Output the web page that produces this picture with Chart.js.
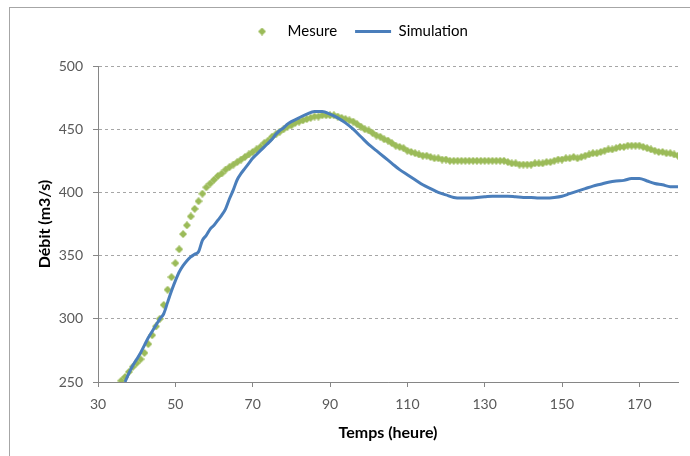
<!DOCTYPE html>
<html>
<head>
<meta charset="utf-8">
<script src="https://cdn.jsdelivr.net/npm/chart.js@4/dist/chart.umd.min.js"></script>
<style>
  html, body { margin: 0; padding: 0; background: #fff; }
  #wrap { position: relative; width: 690px; height: 456px; overflow: hidden; }
  #frame { position: absolute; left: 9px; top: 7px; width: 700px; height: 470px; border: 1px solid #a6a6a6; pointer-events: none; }
</style>
</head>
<body>
<div id="wrap">
  <canvas id="chart" width="690" height="456"></canvas>
  <div id="frame"></div>
</div>
<script>
// données
const seriesNames = ['Mesure', 'Simulation'];
const xTitle = 'Temps (heure)';
const yTitle = 'Débit (m3/s)';
const xTicks = [30, 50, 70, 90, 110, 130, 150, 170];
const yTicks = [250, 300, 350, 400, 450, 500];

const mesureTemps = [
  36, 37, 38, 39, 40, 41, 42, 43, 44, 45, 46, 47, 48, 49, 50, 51, 52, 53, 54, 55,
  56, 57, 58, 59, 60, 61, 62, 63, 64, 65, 66, 67, 68, 69, 70, 71, 72, 73, 74, 75,
  76, 77, 78, 79, 80, 81, 82, 83, 84, 85, 86, 87, 88, 89, 90, 91, 92, 93, 94, 95,
  96, 97, 98, 99, 100, 101, 102, 103, 104, 105, 106, 107, 108, 109, 110, 111, 112, 113, 114, 115,
  116, 117, 118, 119, 120, 121, 122, 123, 124, 125, 126, 127, 128, 129, 130, 131, 132, 133, 134, 135,
  136, 137, 138, 139, 140, 141, 142, 143, 144, 145, 146, 147, 148, 149, 150, 151, 152, 153, 154, 155,
  156, 157, 158, 159, 160, 161, 162, 163, 164, 165, 166, 167, 168, 169, 170, 171, 172, 173, 174, 175,
  176, 177, 178, 179, 180
];
const mesureDebit = [
  251, 254, 258, 262, 265, 268, 273, 280, 287, 294, 300, 311, 323, 333, 344, 355, 367, 374, 381, 387,
  393, 399, 404, 407, 410, 413, 415, 418, 420, 422, 424, 426, 428, 430, 432, 434, 436, 439, 441, 444,
  446, 448, 450, 452, 453, 455, 456, 457, 458, 459, 460, 460, 461, 461, 461, 461, 460, 459, 458, 457,
  456, 454, 452, 450, 449, 447, 445, 444, 442, 441, 439, 437, 436, 435, 433, 432, 431, 430, 429, 429,
  428, 427, 427, 426, 426, 425, 425, 425, 425, 425, 425, 425, 425, 425, 425, 425, 425, 425, 425, 425,
  424, 423, 423, 422, 422, 422, 422, 423, 423, 423, 424, 424, 425, 426, 426, 427, 427, 428, 427, 428,
  429, 430, 431, 431, 432, 433, 434, 434, 435, 436, 436, 437, 437, 437, 437, 436, 435, 434, 433, 432,
  432, 431, 431, 430, 429
];

const simTemps = [
  37, 38, 39, 40, 41, 42, 43, 44, 45, 46, 47, 48, 49, 50, 51, 52, 53, 54, 55, 56,
  57, 58, 59, 60, 61, 62, 63, 64, 65, 66, 67, 68, 69, 70, 71, 72, 73, 74, 75, 76,
  77, 78, 79, 80, 82, 84, 86, 88, 90, 92, 94, 96, 98, 100, 102, 104, 106, 108, 110, 112,
  114, 116, 118, 120, 122, 124, 126, 128, 130, 132, 134, 136, 138, 140, 142, 144, 146, 148, 150, 152,
  154, 156, 158, 160, 162, 164, 166, 168, 170, 172, 174, 176, 178, 180
];
const simDebit = [
  250, 257, 263, 268, 273, 279, 285, 290, 295, 300, 304, 313, 322, 330, 337, 342, 346, 349, 351, 353,
  362, 366, 371, 374, 378, 382, 387, 395, 402, 410, 415, 419, 423, 427, 430, 433, 436, 439, 442, 446,
  449, 451, 454, 456, 459, 462, 464, 464, 462, 459, 455, 450, 444, 438, 433, 428, 423, 418, 414, 410,
  406, 403, 400, 398, 396, 395.5, 395.5, 396, 396.5, 397, 397, 397, 396.5, 396, 396, 395.5, 395.5, 396, 397, 399,
  401, 403, 405, 406.5, 408, 409, 409.5, 411, 411, 409, 407, 406, 404.5, 404.5
];

const xMin = 30, xMax = 180;
const yMin = 250, yMax = 500;

const vert = '#9BBB59';
const bleu = '#4A7EBB';

// losange pour les points de mesure
const losange = document.createElement('canvas');
losange.width = 8;
losange.height = 8;
const lc = losange.getContext('2d');
lc.fillStyle = vert;
lc.beginPath();
lc.moveTo(4, 0);
lc.lineTo(8, 4);
lc.lineTo(4, 8);
lc.lineTo(0, 4);
lc.closePath();
lc.fill();

Chart.defaults.font.family = 'Lato';
Chart.defaults.font.size = 14;
Chart.defaults.color = '#595959';

// légende : un peu plus d'espace en dessous et décalée vers la droite
const legendTweak = {
  id: 'legendTweak',
  beforeLayout(chart) {
    const lg = chart.legend;
    if (lg && !lg._wrapped) {
      const fit = lg.fit;
      lg.fit = function () { fit.call(this); this.height += 17; };
      lg._wrapped = true;
    }
  },
  afterLayout(chart) {
    chart.legend.left += 17;
    chart.legend.right += 17;
  }
};

new Chart(document.getElementById('chart'), {
  type: 'scatter',
  data: {
    datasets: [
      {
        label: seriesNames[0],
        data: mesureTemps.map((t, i) => ({ x: t, y: mesureDebit[i] })),
        pointStyle: losange,
        pointRadius: 4,
        backgroundColor: vert,
        borderColor: vert,
        borderWidth: 0,
        showLine: false,
        order: 1
      },
      {
        label: seriesNames[1],
        data: simTemps.map((t, i) => ({ x: t, y: simDebit[i] })),
        showLine: true,
        pointRadius: 0,
        pointStyle: 'line',
        borderColor: bleu,
        backgroundColor: bleu,
        borderWidth: 3,
        cubicInterpolationMode: 'monotone',
        order: 0
      }
    ]
  },
  options: {
    responsive: false,
    animation: false,
    layout: { padding: { left: 0, right: 12, top: 6, bottom: 0 } },
    plugins: {
      tooltip: { enabled: false },
      legend: {
        position: 'top',
        labels: {
          usePointStyle: true,
          pointStyleWidth: 36,
          padding: 18,
          color: '#000',
          font: { size: 15 },
          sort: (a, b) => a.datasetIndex - b.datasetIndex
        }
      }
    },
    scales: {
      x: {
        type: 'linear',
        min: xMin,
        max: xMax,
        afterFit: s => { s.height = 74; },
        afterBuildTicks: s => { s.ticks = xTicks.map(v => ({ value: v })); },
        ticks: { padding: 9, color: '#595959' },
        grid: { drawOnChartArea: false, drawTicks: true, tickLength: 5, tickColor: '#868686' },
        border: { color: '#868686', width: 1 },
        title: { display: true, text: xTitle, color: '#000', font: { size: 16, weight: 'bold' }, padding: { top: 0, bottom: 14 } }
      },
      y: {
        min: yMin,
        max: yMax,
        afterFit: s => { s.width = 98; },
        afterBuildTicks: s => { s.ticks = yTicks.map(v => ({ value: v })); },
        ticks: { padding: 10, color: '#595959' },
        grid: { color: '#a6a6a6', lineWidth: 1, tickLength: 5, tickColor: '#868686' },
        border: { color: '#868686', width: 1, dash: [3, 3] },
        title: { display: true, text: yTitle, color: '#000', font: { size: 16, weight: 'bold' }, padding: { top: 35, bottom: 0 } }
      }
    }
  },
  plugins: [legendTweak]
});
</script>
</body>
</html>
